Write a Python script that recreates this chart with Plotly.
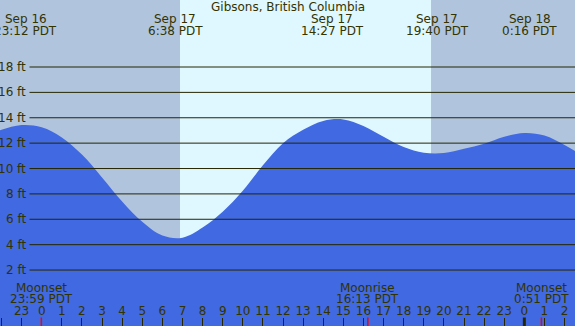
import plotly.graph_objects as go

# ---- data (hours relative to Sep 17 00:00 PDT) ----
tide_hours = list(range(-3, 28))
tide_ft = [12.55, 13.05, 13.42, 13.25, 12.45, 11.1, 9.3, 7.4, 5.8, 4.72, 4.55, 5.35, 6.6,
           8.25, 10.25, 12.0, 13.05, 13.75, 13.87, 13.35, 12.5, 11.7, 11.25, 11.22,
           11.55, 11.95, 12.5, 12.8, 12.6, 11.85, 10.9]

event_hours = [-0.8, 6.633, 14.45, 19.667, 24.267]
event_dates = ["Sep 16", "Sep 17", "Sep 17", "Sep 17", "Sep 18"]
event_times = ["23:12 PDT", "6:38 PDT", "14:27 PDT", "19:40 PDT", "0:16 PDT"]

daylight_start = 6.877
daylight_end = 19.36

moon_hours = [-0.017, 16.217, 24.85]
moon_events = ["Moonset", "Moonrise", "Moonset"]
moon_times = ["23:59 PDT", "16:13 PDT", "0:51 PDT"]

hour_ticks = list(range(-2, 27))
hour_labels = [str(h % 24) for h in hour_ticks]

ft_ticks = [2, 4, 6, 8, 10, 12, 14, 16, 18]
ft_labels = [f"{v} ft" for v in ft_ticks]

title = "Gibsons, British Columbia"

# ---- styling ----
W, H = 575, 326
X_RANGE = [-2.074, 26.52]
Y_RANGE = [-2.41, 23.28]
NIGHT = "#B0C4DE"
DAY = "#DFF7FF"
TIDE = "#4169E1"
INK = "#333300"
LINE = "#262600"
FONT = "DejaVu Sans"


def py(px):
    return 1 - px / H


fig = go.Figure()
fig.add_trace(go.Scatter(x=tide_hours, y=[Y_RANGE[0]] * len(tide_hours), mode="lines",
                         line=dict(width=0, color=TIDE), hoverinfo="skip", showlegend=False))
fig.add_trace(go.Scatter(x=tide_hours, y=tide_ft, mode="lines", fill="tonexty",
                         fillcolor=TIDE, line=dict(width=0, color=TIDE, shape="spline", smoothing=1.0),
                         showlegend=False))

shapes = [dict(type="rect", xref="x", yref="paper", x0=daylight_start, x1=daylight_end,
               y0=0, y1=1, fillcolor=DAY, line=dict(width=0), layer="below")]
for v in ft_ticks:
    shapes.append(dict(type="line", xref="paper", yref="y", x0=29.5 / W, x1=1, y0=v, y1=v,
                       line=dict(color=LINE, width=1), layer="above"))
# midnight tick thicker
shapes.append(dict(type="line", xref="x", yref="paper", x0=24, x1=24, y0=0, y1=8.5 / H,
                   line=dict(color=LINE, width=3)))
for h in moon_hours:
    shapes.append(dict(type="line", xref="x", yref="paper", x0=h, x1=h, y0=0, y1=8.5 / H,
                       line=dict(color="#FF0000", width=1.5)))

ann = [dict(text=title, x=0.5, xref="paper", y=py(7.5), yref="paper", showarrow=False,
            xanchor="center", yanchor="middle", font=dict(family=FONT, size=12, color=INK))]
for h, d, t in zip(event_hours, event_dates, event_times):
    ann.append(dict(text=d, x=h, xref="x", y=py(19.5), yref="paper", showarrow=False,
                    xanchor="center", yanchor="middle", font=dict(family=FONT, size=12, color=INK)))
    ann.append(dict(text=t, x=h, xref="x", y=py(30.5), yref="paper", showarrow=False,
                    xanchor="center", yanchor="middle", font=dict(family=FONT, size=12, color=INK)))
for h, e, t in zip(moon_hours, moon_events, moon_times):
    ann.append(dict(text=e, x=h, xref="x", y=py(287.5), yref="paper", showarrow=False,
                    xanchor="center", yanchor="middle", font=dict(family=FONT, size=12, color=INK)))
    ann.append(dict(text=t, x=h, xref="x", y=py(299), yref="paper", showarrow=False,
                    xanchor="center", yanchor="middle", font=dict(family=FONT, size=12, color=INK)))
for v, lab in zip(ft_ticks, ft_labels):
    ann.append(dict(text=lab, x=27.5 / W, xref="paper", y=v, yref="y", showarrow=False,
                    xanchor="right", yanchor="middle", font=dict(family=FONT, size=12, color=INK)))

fig.update_layout(
    width=W, height=H, margin=dict(l=0, r=0, t=0, b=0),
    paper_bgcolor=NIGHT, plot_bgcolor=NIGHT,
    shapes=shapes, annotations=ann, showlegend=False,
    xaxis=dict(range=X_RANGE, tickmode="array", tickvals=hour_ticks, ticktext=hour_labels,
               ticks="inside", ticklen=8, tickcolor=LINE, tickwidth=1,
               ticklabelposition="inside", showgrid=False, zeroline=False, showline=False,
               tickfont=dict(family=FONT, size=12, color=INK), fixedrange=True),
    yaxis=dict(range=Y_RANGE, showgrid=False, zeroline=False, showticklabels=False,
               showline=False, fixedrange=True),
)

fig.write_html("out.html", config={"displayModeBar": False},
               post_script="document.body.style.margin='0';document.body.style.overflow='hidden';")
